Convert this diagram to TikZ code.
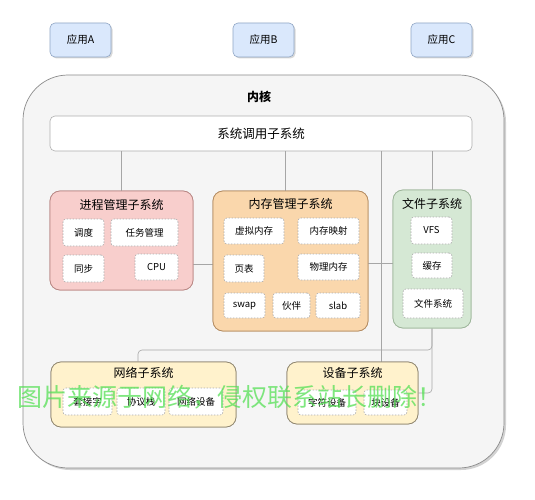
\documentclass[tikz,border=0pt]{standalone}
\usepackage{fontspec}
\setmainfont{Noto Sans CJK SC}
\usetikzlibrary{shadows,calc}
\definecolor{appfill}{HTML}{DAE8FC}
\definecolor{appdraw}{HTML}{8FA5C4}
\definecolor{kerfill}{HTML}{F5F5F5}
\definecolor{kerdraw}{HTML}{8C8C8C}
\definecolor{procfill}{HTML}{F8CECC}
\definecolor{procdraw}{HTML}{B88784}
\definecolor{memfill}{HTML}{FAD7AC}
\definecolor{memdraw}{HTML}{B38B62}
\definecolor{filefill}{HTML}{D5E8D4}
\definecolor{filedraw}{HTML}{9DB59A}
\definecolor{yelfill}{HTML}{FFF2CC}
\definecolor{yeldraw}{HTML}{8F8670}
\definecolor{conncol}{HTML}{A6A6A6}
\definecolor{dashcol}{HTML}{ABABAB}
\definecolor{wmgreen}{HTML}{55E055}
\tikzset{
  appbox/.style={draw=appdraw, fill=appfill, rounded corners=5pt, line width=0.6pt,
    minimum width=61pt, minimum height=34pt, inner sep=0pt,
    font=\fontsize{10.5}{12}\selectfont,
    drop shadow={opacity=0.3, shadow xshift=1.5pt, shadow yshift=-1.5pt}},
  kerbox/.style={draw=kerdraw, fill=kerfill, rounded corners=45pt, line width=0.7pt,
    minimum width=481pt, minimum height=393pt, inner sep=0pt,
    drop shadow={opacity=0.35, shadow xshift=2pt, shadow yshift=-2pt}},
  sysbox/.style={draw=conncol!90, fill=white, rounded corners=5pt, line width=0.6pt,
    minimum width=422pt, minimum height=35pt, inner sep=0pt,
    font=\fontsize{12.5}{14}\selectfont},
  grpbox/.style={rounded corners=10pt, line width=0.7pt, inner sep=0pt},
  grptitle/.style={font=\fontsize{12}{14}\selectfont, inner sep=0pt},
  inbox/.style={draw=dashcol, dash pattern=on 1.5pt off 1.5pt, fill=white,
    rounded corners=3pt, line width=0.6pt, inner sep=0pt,
    font=\fontsize{9.5}{11}\selectfont},
  conn/.style={draw=conncol, line width=0.6pt},
  wmark/.style={text=wmgreen, text opacity=0.75, inner sep=0pt,
    font=\fontsize{25}{27}\selectfont}
}
\begin{document}
\begin{tikzpicture}[x=1pt,y=-1pt]
\useasboundingbox[fill=white] (0,0) rectangle (535,500);

% applications
\node[appbox] (appA) at (80.5,40) {应用A};
\node[appbox] (appB) at (263.5,40) {应用B};
\node[appbox] (appC) at (441.5,40) {应用C};

% kernel
\node[kerbox] (kernel) at (263.5,271.5) {};
\node[font=\fontsize{12}{14}\selectfont\bfseries, inner sep=0pt] (kertitle) at (259,97) {内核};

% system call
\node[sysbox] (sys) at (261,133.5) {系统调用子系统};

% coordinates for connector positions
\coordinate (mx) at (285,0);
\coordinate (dx) at (381,0);
\coordinate (nx) at (138,0);
\coordinate (ny) at (0,350);
\coordinate (py) at (0,264);
\coordinate (fy) at (0,263);

% groups
\node[grpbox, draw=procdraw, fill=procfill, minimum width=143pt, minimum height=99pt] (proc) at (121.5,240.5) {};
\node[grpbox, draw=memdraw, fill=memfill, minimum width=155pt, minimum height=140pt] (mem) at (290.5,261) {};
\node[grpbox, draw=filedraw, fill=filefill, minimum width=78pt, minimum height=138pt] (file) at (432,259) {};
\node[grpbox, draw=yeldraw, fill=yelfill, minimum width=185pt, minimum height=65pt] (net) at (143.5,394.5) {};
\node[grpbox, draw=yeldraw, fill=yelfill, minimum width=131pt, minimum height=62pt] (dev) at (352.5,393) {};

% connectors
\draw[conn] (sys.south -| proc.north) -- (proc.north);
\draw[conn] (sys.south -| mx) -- (mem.north -| mx);
\draw[conn] (sys.south -| file.north) -- (file.north);
\draw[conn] (sys.south -| dx) -- (dev.north -| dx);
\draw[conn] (proc.east |- py) -- (mem.west |- py);
\draw[conn] (mem.east |- fy) -- (file.west |- fy);
\draw[conn, rounded corners=4pt] (net.north -| nx) |- (file.south |- ny) -- (file.south);
\draw[conn, rounded corners=4pt] (dev.east) -| (file.south);

% redraw groups on top of connectors
\node[grpbox, draw=procdraw, fill=procfill, minimum width=143pt, minimum height=99pt] at (proc) {};
\node[grpbox, draw=memdraw, fill=memfill, minimum width=155pt, minimum height=140pt] at (mem) {};
\node[grpbox, draw=filedraw, fill=filefill, minimum width=78pt, minimum height=138pt] at (file) {};
\node[grpbox, draw=yeldraw, fill=yelfill, minimum width=185pt, minimum height=65pt] at (net) {};
\node[grpbox, draw=yeldraw, fill=yelfill, minimum width=131pt, minimum height=62pt] at (dev) {};

% titles
\node[grptitle] (proct) at (121.5,205) {进程管理子系统};
\node[grptitle] (memt) at (290.5,204) {内存管理子系统};
\node[grptitle] (filet) at (432,204) {文件子系统};
\node[grptitle] (nett) at (143.5,373) {网络子系统};
\node[grptitle] (devt) at (352.5,373) {设备子系统};

% process
\node[inbox, minimum width=41pt, minimum height=27pt] (p1) at (83.5,232.5) {调度};
\node[inbox, minimum width=67pt, minimum height=27pt] (p2) at (144.5,232.5) {任务管理};
\node[inbox, minimum width=41pt, minimum height=27pt] (p3) at (83.5,268.5) {同步};
\node[inbox, minimum width=43pt, minimum height=26pt] (p4) at (156.5,267) {CPU};

% memory
\node[inbox, minimum width=60pt, minimum height=26pt] (m1) at (254,231) {虚拟内存};
\node[inbox, minimum width=61pt, minimum height=26pt] (m2) at (328.5,231) {内存映射};
\node[inbox, minimum width=40pt, minimum height=27pt] (m3) at (244,268.5) {页表};
\node[inbox, minimum width=61pt, minimum height=26pt] (m4) at (328.5,267) {物理内存};
\node[inbox, minimum width=41pt, minimum height=25pt] (m5) at (244.5,305.5) {swap};
\node[inbox, minimum width=37pt, minimum height=25pt] (m6) at (291.5,305.5) {伙伴};
\node[inbox, minimum width=44pt, minimum height=25pt] (m7) at (338,305.5) {slab};

% file
\node[inbox, minimum width=41pt, minimum height=27pt] (f1) at (431.5,230.5) {VFS};
\node[inbox, minimum width=40pt, minimum height=25pt] (f2) at (432,265.5) {缓存};
\node[inbox, minimum width=60pt, minimum height=29pt] (f3) at (433,303.5) {文件系统};

% network
\node[inbox, minimum width=49pt, minimum height=27pt] (n1) at (87.5,401.5) {套接字};
\node[inbox, minimum width=48pt, minimum height=27pt] (n2) at (141,401.5) {协议栈};
\node[inbox, minimum width=54pt, minimum height=27pt] (n3) at (196,401.5) {网络设备};

% device
\node[inbox, minimum width=58pt, minimum height=25pt] (d1) at (327,402.5) {字符设备};
\node[inbox, minimum width=43pt, minimum height=25pt] (d2) at (385.5,402.5) {块设备};

% watermark
\node[wmark] (wm) at (230,397) {图片来源于网络，侵权联系站长删除！};
\end{tikzpicture}
\end{document}
